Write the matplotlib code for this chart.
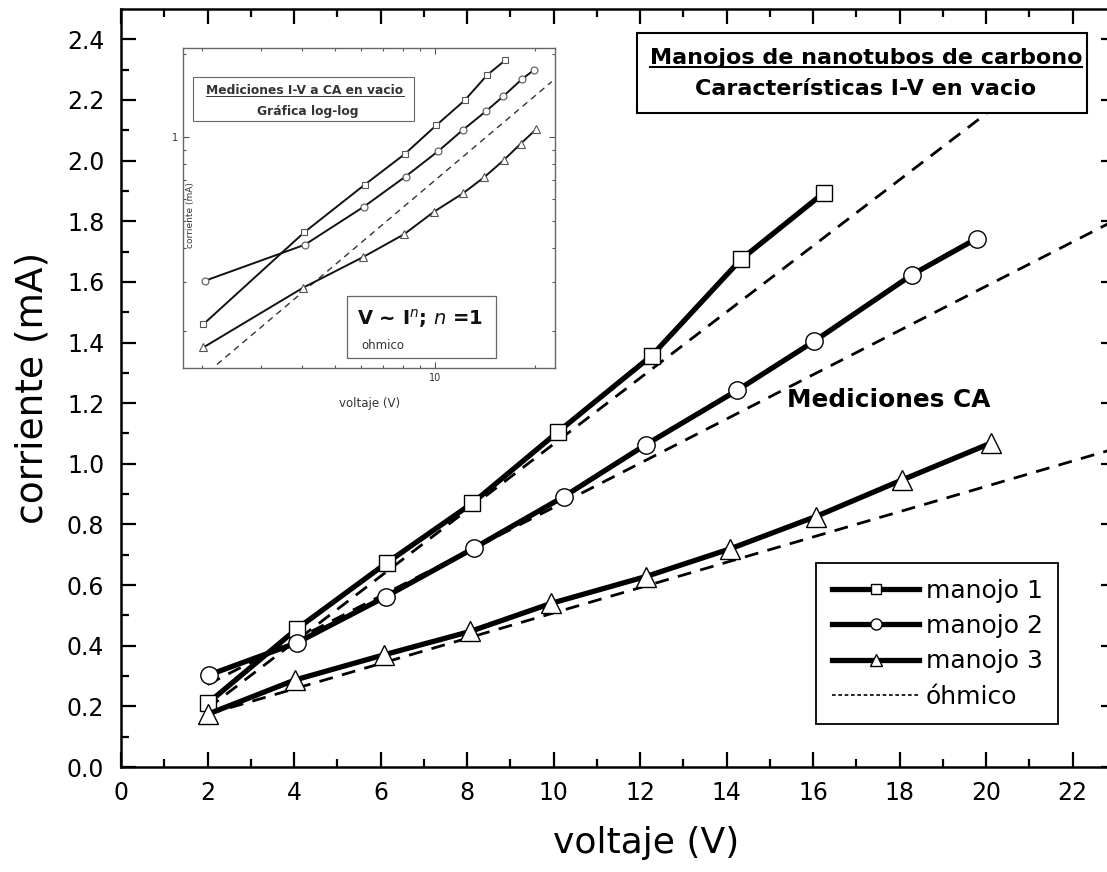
import matplotlib
matplotlib.use("Agg")
import matplotlib.pyplot as plt
from matplotlib.lines import Line2D
from matplotlib.patches import Rectangle
import numpy as np

plt.rcParams['font.family'] = ['DejaVu Sans']
plt.rcParams['mathtext.fontset'] = 'dejavusans'

# ---- data ----
v1 = [2.02, 4.06, 6.15, 8.12, 10.09, 12.27, 14.33, 16.25]
i1 = [0.212, 0.455, 0.674, 0.870, 1.104, 1.357, 1.674, 1.894]
v2 = [2.04, 4.07, 6.12, 8.16, 10.24, 12.13, 14.24, 16.02, 18.29, 19.78]
i2 = [0.304, 0.410, 0.562, 0.722, 0.892, 1.063, 1.242, 1.404, 1.624, 1.743]
v3 = [2.02, 4.02, 6.08, 8.07, 9.95, 12.13, 14.07, 16.06, 18.06, 20.12]
i3 = [0.175, 0.287, 0.370, 0.447, 0.540, 0.628, 0.719, 0.826, 0.947, 1.069]

ohm_v1 = [2.0, 22.0]
ohm_1 = [0.193, 2.373]
ohm_v = [2.0, 23.0]
ohm_2 = [0.272, 1.805]
ohm_3 = [0.174, 1.051]

inset_ohm_v = [2.22, 22.4]
inset_ohm_i = [0.152, 1.585]

labels = ['manojo 1', 'manojo 2', 'manojo 3', 'óhmico']
xticks = list(range(0, 24, 2))
yticks = [round(0.2 * k, 1) for k in range(13)]

W, H = 1107, 872
fig = plt.figure(figsize=(W / 100, H / 100), dpi=100)

def fx(px):
    return px / W

def fy(py):
    return 1 - py / H

L, R, T, B = 121, 1116, 9, 767
ax = fig.add_axes([fx(L), fy(B), fx(R - L), (B - T) / H])
ax.set_xlim(0, 23)
ax.set_ylim(0, 2.5)

dash = (0, (5.0, 3.4))
ax.plot(ohm_v1, ohm_1, color='black', lw=2.0, ls=dash, zorder=2)
ax.plot(ohm_v, ohm_2, color='black', lw=2.0, ls=dash, zorder=2)
ax.plot(ohm_v, ohm_3, color='black', lw=2.0, ls=dash, zorder=2)

mk = dict(markerfacecolor='white', markeredgecolor='black', markeredgewidth=1.0)
ax.plot(v1, i1, color='black', lw=3.8, marker='s', ms=11.5, zorder=3, **mk)
ax.plot(v2, i2, color='black', lw=3.8, marker='o', ms=12.5, zorder=3, **mk)
ax.plot(v3, i3, color='black', lw=3.8, marker='^', ms=14, zorder=3, **mk)

ax.set_xticks(xticks)
ax.set_yticks(yticks)
ax.set_yticklabels([f"{t:.1f}" for t in yticks])
ax.set_xticks(np.arange(1, 23, 2), minor=True)
ax.set_yticks(np.arange(0.1, 2.5, 0.2), minor=True)
ax.tick_params(which='both', direction='in', top=True, right=True, width=1.6, colors='black')
ax.tick_params(which='major', length=11, labelsize=17)
ax.tick_params(which='minor', length=6)
ax.tick_params(axis='y', which='major', pad=12)
ax.tick_params(axis='x', which='major', pad=10)
for s in ax.spines.values():
    s.set_linewidth(1.8)

ax.set_xlabel('voltaje (V)', fontsize=26)
ax.xaxis.set_label_coords((646 - L) / (R - L), -(826 - B) / (B - T))
ax.set_ylabel('corriente (mA)', fontsize=27, labelpad=12)

ax.text((787 - L) / (R - L), (B - 400) / (B - T), 'Mediciones CA', transform=ax.transAxes,
        fontsize=17.8, fontweight='bold', va='center', ha='left', zorder=4)

# legend
handles = [
    Line2D([], [], color='black', lw=3.8, marker='s', ms=7.5, **mk),
    Line2D([], [], color='black', lw=3.8, marker='o', ms=8, **mk),
    Line2D([], [], color='black', lw=3.8, marker='^', ms=9, **mk),
    Line2D([], [], color='black', lw=1.2, ls=(0, (2.2, 1.6))),
]
leg = ax.legend(handles, labels, loc='lower right',
                bbox_to_anchor=((1058 - L) / (R - L), (B - 724) / (B - T)),
                borderaxespad=0, fontsize=18, frameon=True, fancybox=False,
                edgecolor='black', framealpha=1, handlelength=3.5, handletextpad=0.25,
                labelspacing=0.45, borderpad=0.62)
leg.get_frame().set_linewidth(1.3)
leg.set_zorder(5)

# title box
bx0, by0, bx1, by1 = 637, 33, 1087, 113
fig.patches.append(Rectangle((fx(bx0), fy(by1)), fx(bx1 - bx0), (by1 - by0) / H,
                             transform=fig.transFigure, facecolor='white',
                             edgecolor='black', lw=1.5, zorder=6))
cx = (bx0 + bx1) / 2
t1 = fig.text(fx(cx + 4), fy(58), 'Manojos de nanotubos de carbono', ha='center', va='center',
              fontsize=16, fontweight='bold', zorder=7)
t2 = fig.text(fx(cx + 4), fy(89), 'Características I-V en vacio', ha='center', va='center',
              fontsize=16, fontweight='bold', zorder=7)

# inset
iL, iR, iT, iB = 183.3, 555, 48.3, 367.7
ins = fig.add_axes([fx(iL), fy(iB), fx(iR - iL), (iB - iT) / H])
ins.set_xscale('log')
ins.set_yscale('log')
ins.set_xlim(1.76, 22.9)
ins.set_ylim(0.148, 2.09)
ins.set_facecolor('white')
lc = '#111111'
imk = dict(markerfacecolor='white', markeredgecolor='#555555', markeredgewidth=0.8)
ins.plot(inset_ohm_v, inset_ohm_i, color='#333333', lw=1.0, ls=(0, (4.5, 3.5)), zorder=2)
ins.plot(v1, i1, color=lc, lw=1.4, marker='s', ms=4.5, zorder=3, **imk)
ins.plot(v2, i2, color=lc, lw=1.4, marker='o', ms=5, zorder=3, **imk)
ins.plot(v3, i3, color=lc, lw=1.4, marker='^', ms=5.5, zorder=3, **imk)
for s in ins.spines.values():
    s.set_linewidth(1.0)
    s.set_color('#666666')
ins.set_xticks([10])
ins.set_xticklabels(['10'])
ins.set_xticks([2, 3, 4, 5, 6, 7, 8, 9, 20], minor=True)
ins.set_xticklabels([], minor=True)
ins.set_yticks([1])
ins.set_yticklabels(['1'])
ins.set_yticks([0.2, 0.3, 0.4, 0.5, 0.6, 0.7, 0.8, 0.9, 2], minor=True)
ins.set_yticklabels([], minor=True)
ins.tick_params(which='both', direction='in', top=True, right=True, labelsize=7,
                color='#555555', labelcolor='#333333', width=0.8)
ins.tick_params(which='major', length=4, pad=4)
ins.tick_params(which='minor', length=2.5)
fig.text(fx(370), fy(403), 'voltaje (V)', ha='center', va='center', fontsize=8.5, color='#333333')
fig.text(fx(190), fy(215), 'corriente (mA)', ha='center', va='center', rotation=90,
         fontsize=6.5, color='#333333', zorder=8)

# inset box 1
fig.patches.append(Rectangle((fx(193.3), fy(121)), fx(414 - 193.3), (121 - 76.7) / H,
                             transform=fig.transFigure, facecolor='white',
                             edgecolor='#666666', lw=0.8, zorder=6))
t3 = fig.text(fx(305), fy(90), 'Mediciones I-V a CA en vacio', ha='center', va='center',
              fontsize=8.8, fontweight='bold', color='#333333', zorder=7)
fig.text(fx(308), fy(111), 'Gráfica log-log', ha='center', va='center',
         fontsize=8.8, fontweight='bold', color='#333333', zorder=7)

# inset box 2
fig.patches.append(Rectangle((fx(347.3), fy(357.7)), fx(496 - 347.3), (357.7 - 296) / H,
                             transform=fig.transFigure, facecolor='white',
                             edgecolor='#666666', lw=0.9, zorder=6))
fig.text(fx(357), fy(318), r'V ~ I$^{\mathbf{\mathit{n}}}$; $\mathbf{\mathit{n}}$ =1', ha='left', va='center',
         fontsize=14, fontweight='bold', color='#111111', zorder=7)
fig.text(fx(361), fy(345), 'ohmico', ha='left', va='center', fontsize=8.5,
         color='#333333', zorder=7)
ax.annotate('', xy=(fx(268), fy(328)), xycoords='figure fraction',
            xytext=(fx(347), fy(328)), textcoords='figure fraction',
            arrowprops=dict(arrowstyle='-|>', color='#666666', lw=0.7, mutation_scale=6),
            zorder=9, annotation_clip=False)

# underlines
fig.canvas.draw()
rend = fig.canvas.get_renderer()
for t, off, lw, col in [(t1, 1.0, 1.5, 'black'), (t3, 0.5, 0.7, '#333333')]:
    bb = t.get_window_extent(rend)
    yline = bb.y0 + off
    fig.add_artist(Line2D([bb.x0 / W, bb.x1 / W], [yline / H, yline / H],
                          transform=fig.transFigure, color=col, lw=lw, zorder=8))

fig.savefig('out.png', dpi=100)
